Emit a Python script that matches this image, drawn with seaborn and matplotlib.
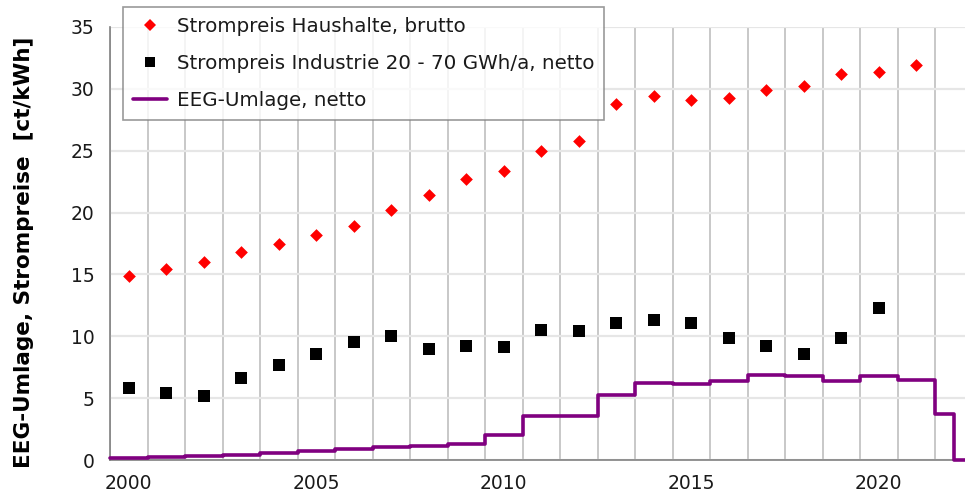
import matplotlib
matplotlib.use("Agg")
import matplotlib.pyplot as plt
import seaborn as sns
import pandas as pd
from matplotlib.ticker import MultipleLocator, FixedLocator, FixedFormatter
from matplotlib.lines import Line2D

# Strompreise (ct/kWh), Jahreswerte
jahre_haushalt = list(range(2000, 2022))
haushalte = [14.9, 15.4, 16.0, 16.8, 17.5, 18.2, 18.9, 20.2, 21.4, 22.7, 23.4,
             25.0, 25.8, 28.8, 29.4, 29.1, 29.3, 29.9, 30.2, 31.2, 31.4, 31.9]
jahre_industrie = list(range(2000, 2021))
industrie = [5.8, 5.4, 5.2, 6.6, 7.7, 8.55, 9.5, 10.0, 8.95, 9.2, 9.1,
             10.5, 10.4, 11.1, 11.3, 11.1, 9.85, 9.2, 8.6, 9.9, 12.3]

# EEG-Umlage: Beginn jeder Stufe und Wert
eeg_beginn = list(range(2000, 2023)) + [2022.5, 2023]
eeg_umlage = [0.19, 0.25, 0.36, 0.41, 0.58, 0.69, 0.88, 1.02, 1.16, 1.33, 2.05,
              3.53, 3.59, 5.28, 6.24, 6.17, 6.35, 6.88, 6.79, 6.41, 6.76, 6.50,
              3.72, 0.0, 0.0]

tick_jahre = [2000, 2005, 2010, 2015, 2020]

sns.set_style("white")
plt.rcParams["font.family"] = ["DejaVu Sans"]

df_h = pd.DataFrame({"jahr": [j + 0.5 for j in jahre_haushalt], "wert": haushalte})
df_i = pd.DataFrame({"jahr": [j + 0.5 for j in jahre_industrie], "wert": industrie})
df_e = pd.DataFrame({"jahr": eeg_beginn, "wert": eeg_umlage})

fig = plt.figure(figsize=(9.65, 4.91), dpi=100)
ax = fig.add_axes([110 / 965, 31 / 491, 855 / 965, 433 / 491])

sns.lineplot(data=df_e, x="jahr", y="wert", ax=ax, color="#800080", linewidth=2.6,
             drawstyle="steps-post", clip_on=False, zorder=3)
sns.scatterplot(data=df_i, x="jahr", y="wert", ax=ax, marker="s", color="black",
                s=70, linewidth=0, zorder=4)
sns.scatterplot(data=df_h, x="jahr", y="wert", ax=ax, marker="D", color="#ff0000",
                s=42, linewidth=0, zorder=4)

ax.set_xlim(2000, 2022.8)
ax.set_ylim(0, 35)

ax.xaxis.set_major_locator(MultipleLocator(1))
ax.xaxis.set_major_formatter(FixedFormatter([]))
ax.xaxis.set_minor_locator(FixedLocator([j + 0.5 for j in tick_jahre]))
ax.xaxis.set_minor_formatter(FixedFormatter([str(j) for j in tick_jahre]))
ax.tick_params(axis="x", which="major", direction="in", length=4, color="#808080",
               labelbottom=False)
ax.tick_params(axis="x", which="minor", length=0, pad=10, labelsize=13.5, labelcolor="#1a1a1a")

ax.yaxis.set_major_locator(MultipleLocator(5))
ax.yaxis.set_minor_locator(MultipleLocator(1))
ax.tick_params(axis="y", which="major", direction="inout", length=8, color="#808080",
               pad=7, labelsize=13.5, labelcolor="#1a1a1a")
ax.tick_params(axis="y", which="minor", direction="in", length=4, color="#808080")

ax.grid(axis="x", which="major", color="#c4c4c4", linewidth=1.3)
ax.grid(axis="y", which="major", color="#e6e6e6", linewidth=1.6)
ax.set_axisbelow(True)

for s in ["top", "right"]:
    ax.spines[s].set_visible(False)
for s in ["left", "bottom"]:
    ax.spines[s].set_color("#808080")
    ax.spines[s].set_linewidth(1.2)

ax.set_xlabel("")
ax.set_ylabel("EEG-Umlage, Strompreise  [ct/kWh]", fontsize=15.5, fontweight="bold",
              color="black")
ax.yaxis.set_label_coords(-76 / 855, 0.48)

handles = [
    Line2D([], [], marker="D", color="#ff0000", linestyle="none", markersize=6, markeredgewidth=0),
    Line2D([], [], marker="s", color="black", linestyle="none", markersize=7, markeredgewidth=0),
    Line2D([], [], color="#800080", linewidth=2.6),
]
labels = ["Strompreis Haushalte, brutto",
          "Strompreis Industrie 20 - 70 GWh/a, netto",
          "EEG-Umlage, netto"]
leg = fig.legend(handles, labels, loc="upper left", bbox_to_anchor=(123 / 965, 1 - 7 / 491),
                 fontsize=14.3, frameon=True, fancybox=False, edgecolor="#808080",
                 borderpad=0.5, labelspacing=0.9, handlelength=1.7, handletextpad=0.5,
                 borderaxespad=0)
leg.get_frame().set_linewidth(1.2)
for t in leg.get_texts():
    t.set_color("#1a1a1a")

fig.savefig("out.png", dpi=100)
